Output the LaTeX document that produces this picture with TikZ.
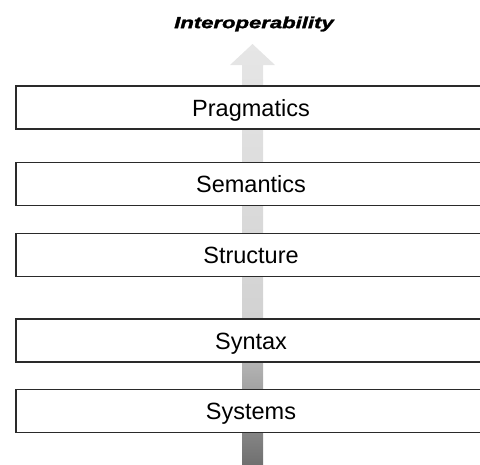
\documentclass[tikz,border=0pt]{standalone}
\usepackage{fontspec}
\setmainfont{Liberation Sans}
\newfontfamily\goalfont[BoldItalicFeatures={FakeBold=1.6}]{Liberation Sans}
\usetikzlibrary{calc}
\usetikzlibrary{positioning}
\definecolor{framegray}{HTML}{2A2A2A}
\definecolor{shafttop}{HTML}{E6E6E6}
\definecolor{shaftmid}{HTML}{D2D2D2}
\definecolor{shaftbot}{HTML}{6C6C6C}

\begin{document}
\begin{tikzpicture}[x=1pt, y=-1pt,
	layer/.style={draw=framegray, line width=1.3pt, fill=white, rectangle, minimum width=470pt, minimum height=43pt, inner sep=0pt, text height=17pt, text depth=0pt, font=\fontsize{23.5}{27}\selectfont}]
	
	\useasboundingbox (0, 0) rectangle (480, 464);
	
	\node [font=\goalfont\fontsize{16}{18}\selectfont\bfseries\itshape, xscale=1.38] at (254, 24) (goal){Interoperability};
	
	\coordinate (base) at (252.5, 470);
	\coordinate (seam) at (252.5, 318);
	\coordinate (tip) at (252.5, 44);
	
	% shaded arrow behind the layers
	\shade [top color=shafttop, bottom color=shaftmid]
		($(seam)+(-10.5,0)$) -- ($(tip)+(-10.5,21)$) -- ($(tip)+(-22.5,21)$) -- (tip)
		-- ($(tip)+(22.5,21)$) -- ($(tip)+(10.5,21)$) -- ($(seam)+(10.5,0)$) -- cycle;
	\shade [top color=shaftmid, bottom color=shaftbot]
		($(base)+(-10.5,0)$) rectangle ($(seam)+(10.5,0)$);
	
	\node [layer] at (251, 107.5) (pragmatics){Pragmatics};
	\node [layer] at (251, 184) (semantics){Semantics};
	\node [layer] at (251, 255) (structure){Structure};
	\node [layer] at (251, 340.5) (syntax){Syntax};
	\node [layer] at (251, 411) (systems){Systems};
	
\end{tikzpicture}
\end{document}
